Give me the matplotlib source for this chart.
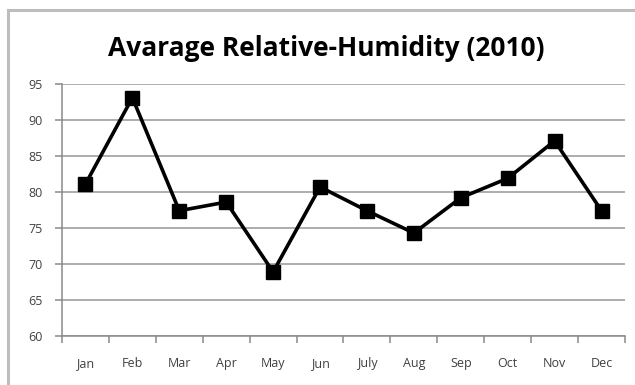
import matplotlib.pyplot as plt
from matplotlib.patches import Rectangle

# monthly average relative humidity, 2010
months = ['Jan', 'Feb', 'Mar', 'Apr', 'May', 'Jun',
          'July', 'Aug', 'Sep', 'Oct', 'Nov', 'Dec']
humidity = [81.1, 93.1, 77.4, 78.6, 68.9, 80.7,
            77.4, 74.3, 79.2, 81.9, 87.1, 77.4]
y_ticks = [60, 65, 70, 75, 80, 85, 90, 95]

plt.rcParams['font.family'] = ['Open Sans', 'DejaVu Sans']

fig = plt.figure(figsize=(6.35, 3.85), dpi=100)
ax = fig.add_axes([62 / 635, 1 - 336 / 385, 563 / 635, 252 / 385])

# chart-area frame (runs off the right and bottom edges)
fig.patches.append(Rectangle((8 / 635, -0.1), 1.0, 1 - 10 / 385 + 0.1,
                             transform=fig.transFigure, fill=False,
                             edgecolor='#bdbdbd', linewidth=2.2))

x = list(range(len(months)))
ax.plot(x, humidity, color='black', linewidth=2.6, marker='s',
        markersize=9.5, zorder=3)

ax.set_xlim(-0.5, len(months) - 0.5)
ax.set_ylim(60, 95)
ax.set_yticks(y_ticks)
ax.grid(True, axis='y', color='#a0a0a0', linewidth=1.2)
ax.set_axisbelow(True)

# labels under the categories, tick marks on the boundaries
ax.set_xticks(x)
ax.set_xticklabels(months)
ax.set_xticks([i - 0.5 for i in range(len(months) + 1)], minor=True)
ax.tick_params(axis='x', which='major', length=0, pad=15,
               labelsize=9, labelcolor='#404040')
ax.tick_params(axis='x', which='minor', length=5, color='#8a8a8a', width=1.1)
ax.tick_params(axis='y', length=5, color='#8a8a8a', width=1.1, pad=9,
               labelsize=9, labelcolor='#404040')

for side in ['top', 'right']:
    ax.spines[side].set_visible(False)
for side in ['left', 'bottom']:
    ax.spines[side].set_color('#8a8a8a')
    ax.spines[side].set_linewidth(1.1)

fig.text(326 / 635, 1 - 48 / 385, 'Avarage Relative-Humidity (2010)',
         ha='center', va='center', fontsize=19, fontweight='bold')

fig.savefig('out.png', dpi=100)
